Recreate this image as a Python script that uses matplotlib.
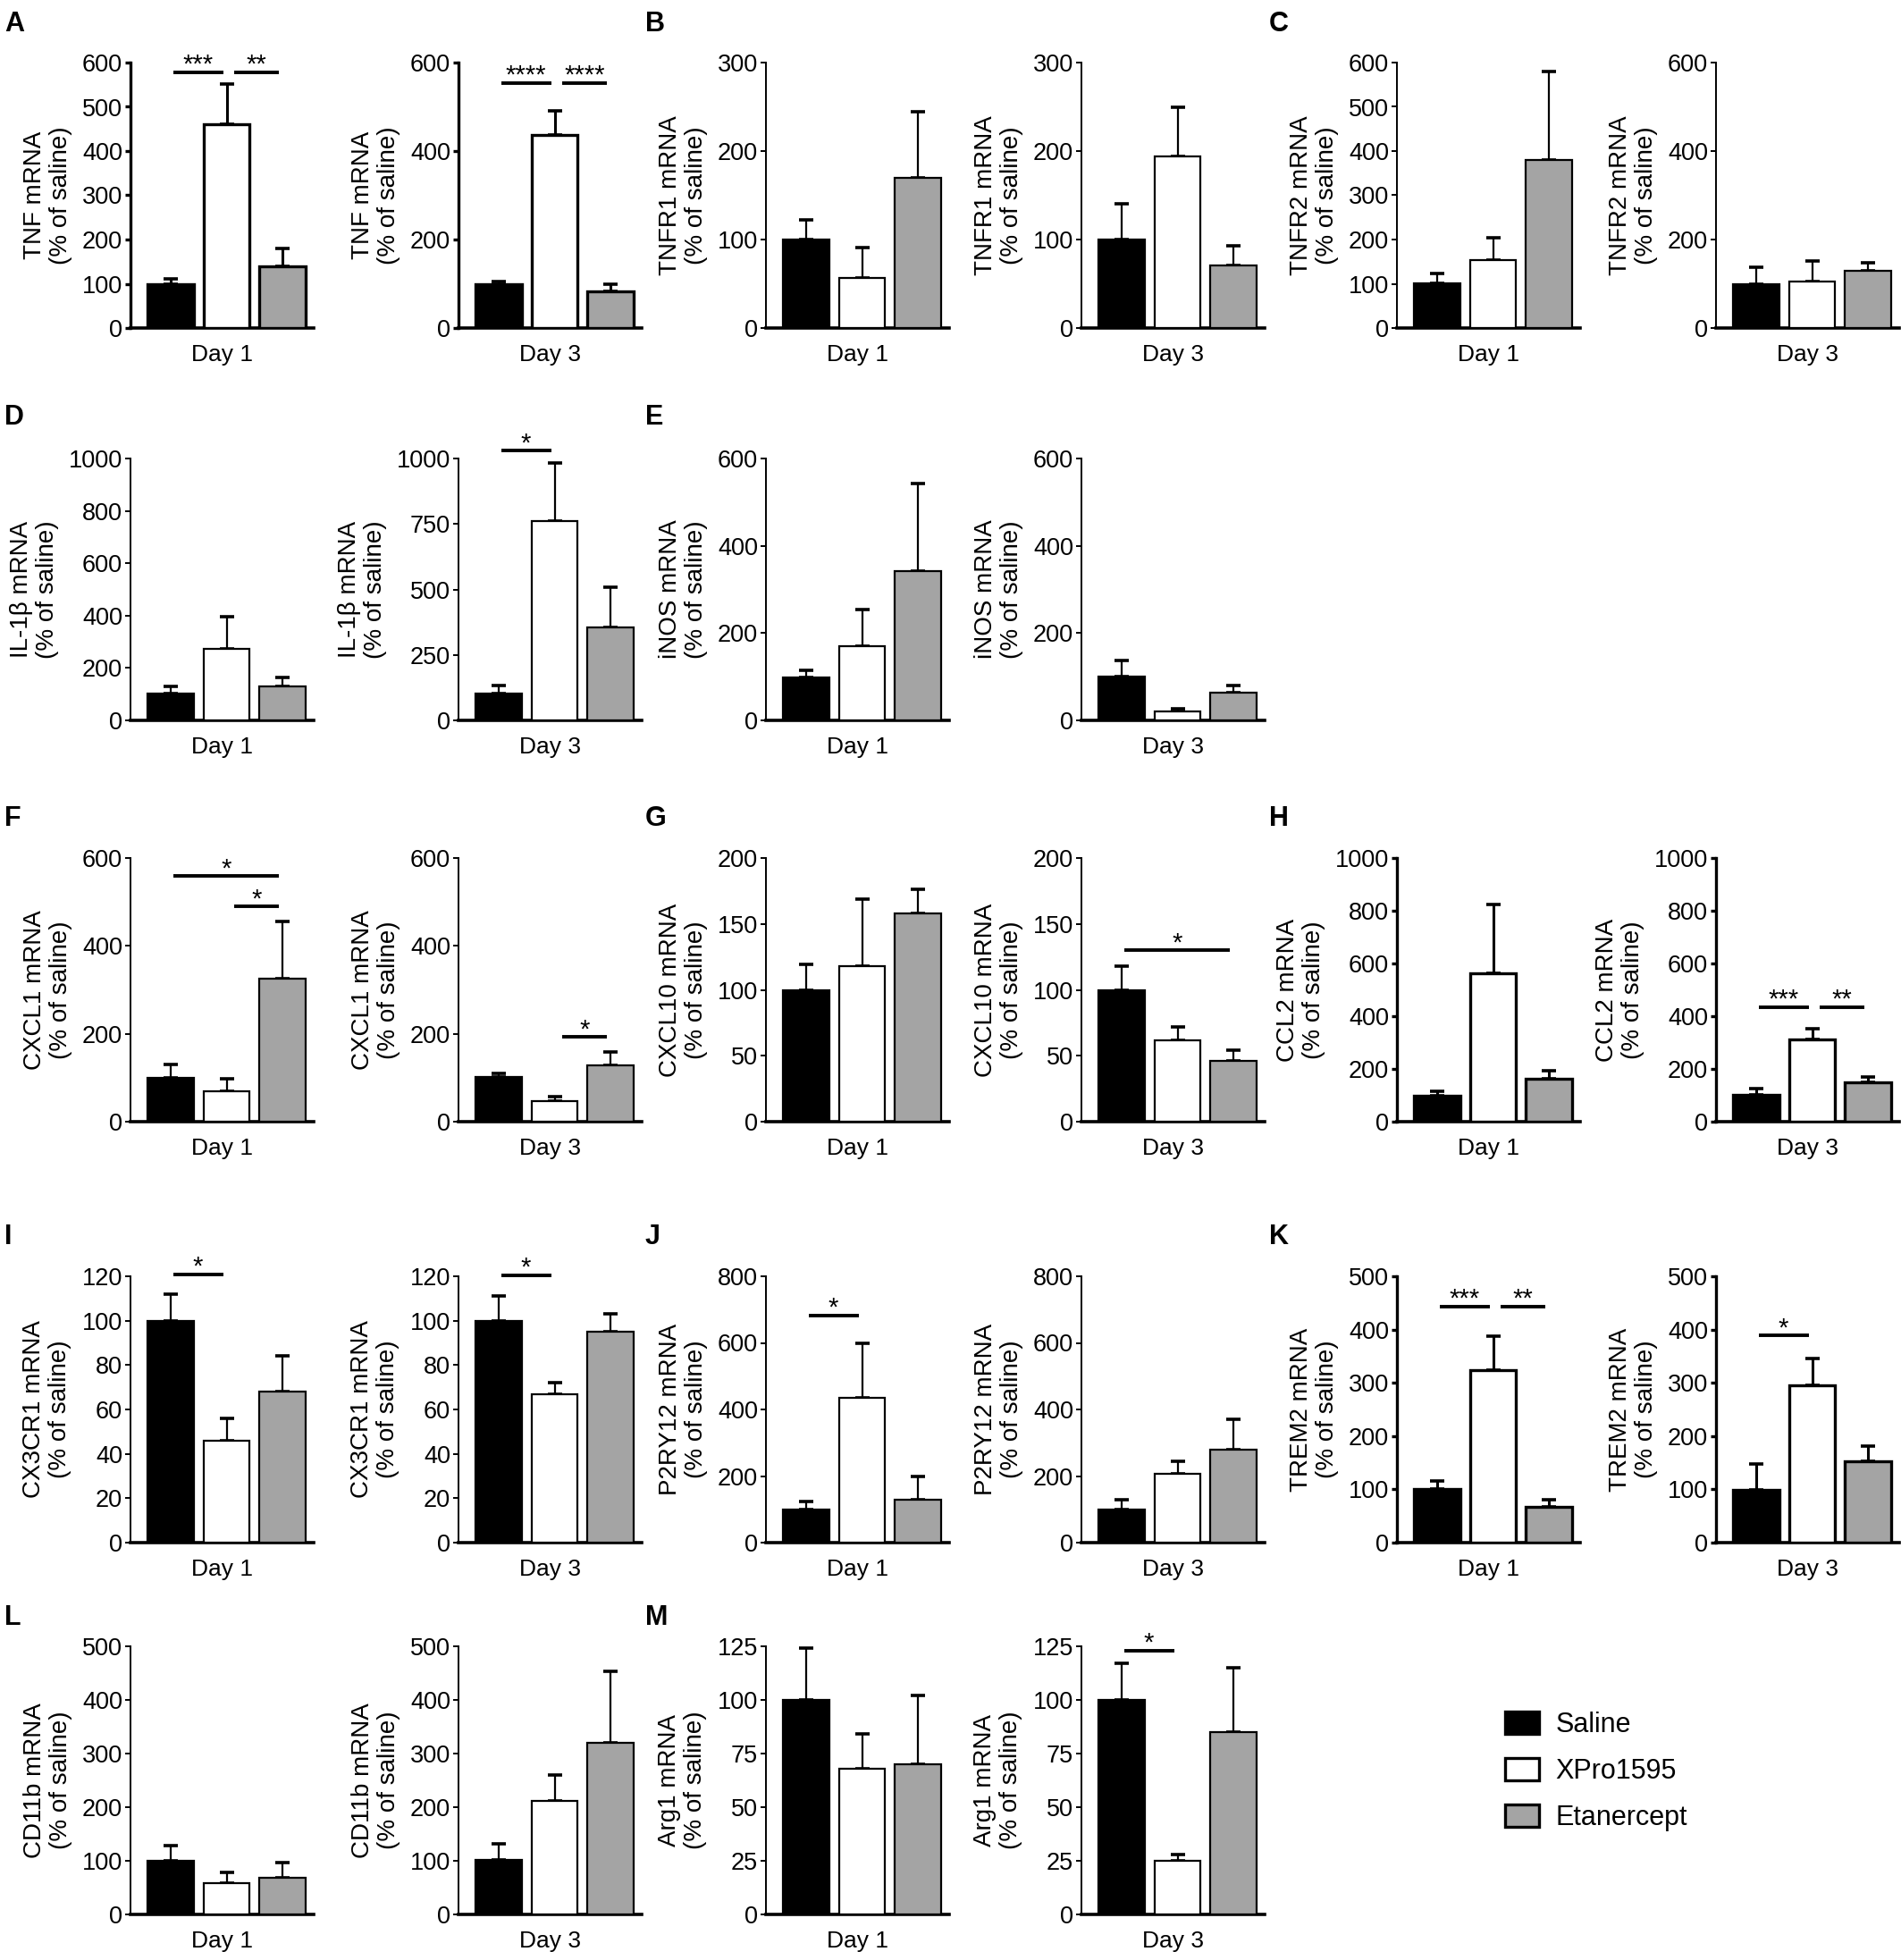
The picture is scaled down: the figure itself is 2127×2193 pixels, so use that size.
import numpy as np
import matplotlib.pyplot as plt
from matplotlib.patches import Patch

plt.rcParams['font.family'] = ['Liberation Sans', 'DejaVu Sans']

genes = ['TNF', 'TNFR1', 'TNFR2', 'IL-1β', 'iNOS', 'CXCL1', 'CXCL10',
         'CCL2', 'CX3CR1', 'P2RY12', 'TREM2', 'CD11b', 'Arg1']
letters = ['A', 'B', 'C', 'D', 'E', 'F', 'G', 'H', 'I', 'J', 'K', 'L', 'M']
groups = ['Saline', 'XPro1595', 'Etanercept']
days = ['Day 1', 'Day 3']

# mRNA, % of saline (Saline, XPro1595, Etanercept)
day1_mean = [
    [100, 461, 139],  # TNF
    [100, 57, 170],   # TNFR1
    [102, 153, 379],  # TNFR2
    [102, 272, 128],  # IL-1b
    [99, 169, 341],   # iNOS
    [100, 69, 326],   # CXCL1
    [100, 118, 158],  # CXCL10
    [99, 563, 162],   # CCL2
    [100, 46, 68],    # CX3CR1
    [98, 434, 129],   # P2RY12
    [100, 323, 67],   # TREM2
    [100, 59, 68],    # CD11b
    [100, 68, 70],    # Arg1
]
day1_sem = [
    [12, 91, 41],
    [22, 34, 74],
    [21, 51, 201],
    [27, 125, 37],
    [16, 85, 201],
    [30, 29, 129],
    [19, 51, 18],
    [17, 262, 31],
    [12, 10, 16],
    [26, 165, 71],
    [15, 64, 13],
    [28, 19, 28],
    [24, 16, 32],
]
day3_mean = [
    [100, 436, 82],
    [100, 194, 71],
    [100, 105, 129],
    [101, 762, 356],
    [101, 20, 63],
    [101, 47, 129],
    [100, 62, 46],
    [102, 312, 149],
    [100, 67, 95],
    [99, 207, 280],
    [99, 295, 152],
    [102, 211, 320],
    [100, 25, 85],
]
day3_sem = [
    [5, 55, 18],
    [40, 55, 22],
    [37, 46, 18],
    [31, 222, 153],
    [36, 6, 17],
    [8, 10, 30],
    [18, 10, 8],
    [23, 42, 20],
    [11, 5, 8],
    [31, 36, 90],
    [48, 51, 30],
    [29, 49, 134],
    [17, 3, 30],
]

# y axis: top and tick step per gene
day1_ymax = [600, 300, 600, 1000, 600, 600, 200, 1000, 120, 800, 500, 500, 125]
day1_step = [100, 100, 100, 200, 200, 200, 50, 200, 20, 200, 100, 100, 25]
day3_ymax = [600, 300, 600, 1000, 600, 600, 200, 1000, 120, 800, 500, 500, 125]
day3_step = [200, 100, 200, 250, 200, 200, 50, 200, 20, 200, 100, 100, 25]

# significance: (group i, group j, stars, bar height)
day1_sig = {
    'TNF': [(0, 1, '***', 578), (1, 2, '**', 578)],
    'CXCL1': [(0, 2, '*', 559), (1, 2, '*', 490)],
    'CX3CR1': [(0, 1, '*', 121)],
    'P2RY12': [(0, 1, '*', 683)],
    'TREM2': [(0, 1, '***', 443), (1, 2, '**', 443)],
}
day3_sig = {
    'TNF': [(0, 1, '****', 554), (1, 2, '****', 554)],
    'IL-1β': [(0, 1, '*', 1030)],
    'CXCL1': [(1, 2, '*', 193)],
    'CXCL10': [(0, 2, '*', 130)],
    'CCL2': [(0, 1, '***', 434), (1, 2, '**', 434)],
    'CX3CR1': [(0, 1, '*', 120.5)],
    'TREM2': [(0, 1, '*', 389)],
    'Arg1': [(0, 1, '*', 123)],
}

colors = ['#000000', '#ffffff', '#a4a4a4']
thick_genes = ['TNF', 'CCL2', 'TREM2']

W, H = 2127, 2193
fig = plt.figure(figsize=(W / 100, H / 100), dpi=100)

col_left = [146, 513, 857, 1210, 1563, 1920]
row_span = [(70, 367), (513, 806), (960, 1255), (1428, 1726), (1842, 2142)]
rows = [[0, 1, 2], [3, 4], [5, 6, 7], [8, 9, 10], [11, 12]]
letter_x = [5, 722, 1420]
letter_y = [35, 475, 924, 1392, 1818]
ax_w = 205


def draw_panel(ax, gene, mean, sem, ymax, step, day, sig, thick):
    x = np.arange(3)
    lw = 2.4 if thick else 1.6
    spine_l = 2.4 if thick else 1.4
    ax.errorbar(x, mean, yerr=[np.zeros(3), sem], fmt='none', ecolor='black',
                elinewidth=2.2 if thick else 1.6, capsize=5.5,
                capthick=2.6, zorder=2, clip_on=False)
    ax.bar(x, mean, width=0.82, color=colors, edgecolor='black',
           linewidth=lw, zorder=3)
    ax.set_xlim(-0.72, 2.56)
    ax.set_ylim(0, ymax)
    ax.set_yticks(np.arange(0, ymax + step / 2, step))
    ax.set_xticks([])
    for s in ['top', 'right']:
        ax.spines[s].set_visible(False)
    ax.spines['left'].set_linewidth(spine_l)
    ax.spines['bottom'].set_linewidth(2.6)
    ax.tick_params(axis='y', labelsize=19.5, length=4.5, width=spine_l, pad=2)
    ax.set_ylabel(gene + ' mRNA\n(% of saline)', fontsize=20, labelpad=8,
                  linespacing=1.15)
    ax.set_xlabel(day, fontsize=19, labelpad=13)
    for (i, j, stars, yy) in sig:
        x0 = i + 0.04 + (0.1 if i > 0 else 0)
        x1 = j - 0.06
        ax.plot([x0, x1], [yy, yy], color='black', lw=2.8,
                solid_capstyle='butt', clip_on=False, zorder=4)
        ax.annotate(stars, xy=((x0 + x1) / 2, yy), xytext=(0, 0),
                    textcoords='offset points', ha='center', va='baseline',
                    fontsize=21, annotation_clip=False)


for r, gene_ids in enumerate(rows):
    top, bottom = row_span[r]
    for k, g in enumerate(gene_ids):
        gene = genes[g]
        thick = gene in thick_genes
        fig.text(letter_x[k] / W, 1 - letter_y[r] / H, letters[g],
                 fontsize=22, fontweight='bold', va='baseline', ha='left')
        for d in range(2):
            left = col_left[2 * k + d]
            ax = fig.add_axes([left / W, 1 - bottom / H, ax_w / W,
                               (bottom - top) / H])
            if d == 0:
                draw_panel(ax, gene, day1_mean[g], day1_sem[g], day1_ymax[g],
                           day1_step[g], days[0], day1_sig.get(gene, []),
                           thick)
            else:
                draw_panel(ax, gene, day3_mean[g], day3_sem[g], day3_ymax[g],
                           day3_step[g], days[1], day3_sig.get(gene, []),
                           thick)

handles = [Patch(facecolor=c, edgecolor='black', linewidth=2.4, label=lab)
           for c, lab in zip(colors, groups)]
fig.legend(handles=handles, loc='upper left',
           bbox_to_anchor=(1684 / W, 1 - 1915 / H), frameon=False,
           prop={'family': ['Liberation Sans Narrow', 'Liberation Sans'],
                 'size': 22},
           handlelength=1.25, handleheight=0.85, labelspacing=0.72,
           handletextpad=0.6, borderpad=0, borderaxespad=0)

fig.savefig('out.png', dpi=100)
